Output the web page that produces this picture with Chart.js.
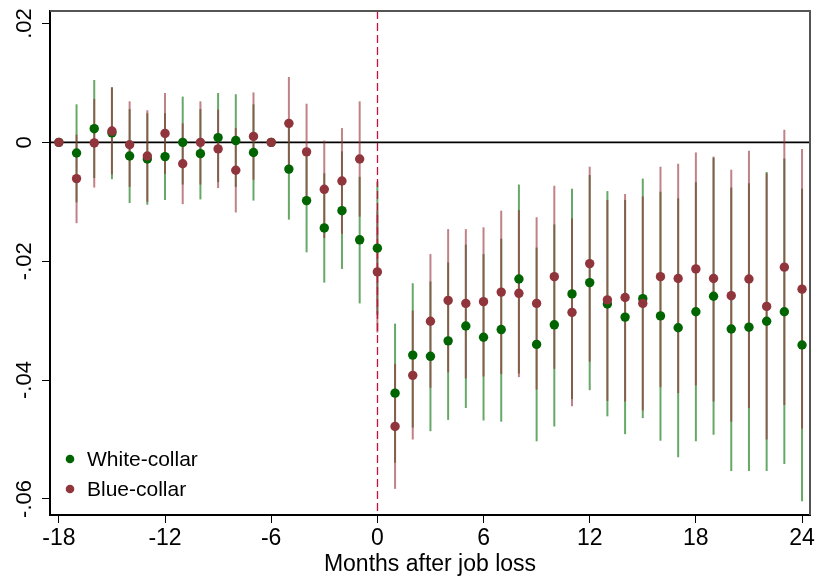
<!DOCTYPE html>
<html>
<head>
<meta charset="utf-8">
<script src="https://cdn.jsdelivr.net/npm/chart.js@4.4.0/dist/chart.umd.min.js"></script>
<style>
  body { margin: 0; background: #fff; }
  #wrap { width: 817px; height: 579px; }
</style>
</head>
<body>
<div id="wrap"><canvas id="jobLossChart" width="817" height="579"></canvas></div>
<script>
// months relative to job loss
const months = [-18, -17, -16, -15, -14, -13, -12, -11, -10, -9, -8, -7, -6, -5, -4, -3, -2, -1,
  0, 1, 2, 3, 4, 5, 6, 7, 8, 9, 10, 11, 12, 13, 14, 15, 16, 17, 18, 19, 20, 21, 22, 23, 24];

const whiteEst = [0, -0.0018, 0.0023, 0.0016, -0.0023, -0.0028, -0.0024, 0.0000, -0.0019, 0.0008, 0.0003, -0.0017, 0, -0.0045, -0.0098, -0.0144, -0.0115, -0.0164,
  -0.0178, -0.0422, -0.0358, -0.0360, -0.0334, -0.0309, -0.0328, -0.0315, -0.0230, -0.0340, -0.0307, -0.0255, -0.0236, -0.0272, -0.0294, -0.0263, -0.0292, -0.0312, -0.0285, -0.0259, -0.0314, -0.0311, -0.0301, -0.0285, -0.0341];
const whiteLo = [null, -0.0101, -0.0060, -0.0062, -0.0102, -0.0105, -0.0097, -0.0071, -0.0096, -0.0067, -0.0075, -0.0098, null, -0.0130, -0.0185, -0.0236, -0.0213, -0.0271,
  -0.0290, -0.0539, -0.0480, -0.0486, -0.0467, -0.0447, -0.0468, -0.0470, -0.0389, -0.0503, -0.0478, -0.0432, -0.0417, -0.0461, -0.0491, -0.0464, -0.0502, -0.0530, -0.0503, -0.0492, -0.0553, -0.0553, -0.0553, -0.0541, -0.0604];
const whiteHi = [null, 0.0064, 0.0105, 0.0093, 0.0056, 0.0049, 0.0049, 0.0077, 0.0056, 0.0083, 0.0081, 0.0064, null, 0.0030, -0.0011, -0.0052, -0.0015, -0.0058,
  -0.0066, -0.0305, -0.0237, -0.0234, -0.0202, -0.0172, -0.0188, -0.0162, -0.0071, -0.0177, -0.0138, -0.0078, -0.0055, -0.0082, -0.0097, -0.0061, -0.0083, -0.0094, -0.0067, -0.0026, -0.0076, -0.0069, -0.0050, -0.0027, -0.0078];

const blueEst = [0, -0.0061, -0.0001, 0.0019, -0.0004, -0.0023, 0.0015, -0.0036, 0.0000, -0.0011, -0.0047, 0.0010, 0, 0.0032, -0.0016, -0.0079, -0.0065, -0.0028,
  -0.0218, -0.0478, -0.0392, -0.0301, -0.0266, -0.0271, -0.0268, -0.0252, -0.0254, -0.0271, -0.0226, -0.0286, -0.0204, -0.0265, -0.0261, -0.0271, -0.0226, -0.0229, -0.0213, -0.0229, -0.0258, -0.0230, -0.0276, -0.0210, -0.0247];
const blueLo = [null, -0.0136, -0.0076, -0.0054, -0.0075, -0.0100, -0.0053, -0.0104, -0.0071, -0.0077, -0.0118, -0.0063, null, -0.0046, -0.0097, -0.0161, -0.0154, -0.0125,
  -0.0320, -0.0583, -0.0500, -0.0413, -0.0387, -0.0397, -0.0394, -0.0390, -0.0395, -0.0416, -0.0381, -0.0444, -0.0369, -0.0435, -0.0436, -0.0451, -0.0412, -0.0422, -0.0409, -0.0436, -0.0470, -0.0447, -0.0500, -0.0442, -0.0482];
const blueHi = [null, 0.0013, 0.0073, 0.0092, 0.0069, 0.0054, 0.0083, 0.0032, 0.0069, 0.0055, 0.0024, 0.0084, null, 0.0110, 0.0065, 0.0003, 0.0024, 0.0069,
  -0.0116, -0.0373, -0.0283, -0.0188, -0.0146, -0.0146, -0.0143, -0.0115, -0.0114, -0.0126, -0.0073, -0.0128, -0.0041, -0.0097, -0.0087, -0.0091, -0.0041, -0.0036, -0.0017, -0.0024, -0.0046, -0.0014, -0.0052, 0.0021, -0.0011];

const xTicks = [-18, -12, -6, 0, 6, 12, 18, 24];
const yTicks = [-0.06, -0.04, -0.02, 0, 0.02];

const GREEN = "#006400";
const RED = "#90353b";

Chart.defaults.font.family = "'Liberation Sans', Arial, sans-serif";
Chart.defaults.color = "#000";

function fmtY(v) {
  if (Math.abs(v) < 1e-9) return "0";
  return (v < 0 ? "-" : "") + Math.abs(v).toFixed(2).replace(/^0/, "");
}

function toPoints(est) {
  return months.map((m, i) => ({ x: m, y: est[i] }));
}

// zero line, job loss marker and the confidence bars, under the dots
const backLayer = {
  id: "backLayer",
  beforeDatasetsDraw(chart) {
    const { ctx, chartArea, scales } = chart;
    const x = scales.x, y = scales.y;
    ctx.save();

    const y0 = y.getPixelForValue(0);
    ctx.strokeStyle = "#000";
    ctx.lineWidth = 1.6;
    ctx.beginPath();
    ctx.moveTo(chartArea.left, y0);
    ctx.lineTo(chartArea.right, y0);
    ctx.stroke();

    const bars = [
      [whiteLo, whiteHi, "rgba(0,110,0,0.6)"],
      [blueLo, blueHi, "rgba(150,45,55,0.6)"]
    ];
    ctx.lineWidth = 2;
    bars.forEach(([lo, hi, col]) => {
      ctx.strokeStyle = col;
      months.forEach((m, i) => {
        if (lo[i] === null) return;
        const px = x.getPixelForValue(m);
        ctx.beginPath();
        ctx.moveTo(px, y.getPixelForValue(lo[i]));
        ctx.lineTo(px, y.getPixelForValue(hi[i]));
        ctx.stroke();
      });
    });

    const xz = Math.round(x.getPixelForValue(0)) + 0.5;
    ctx.strokeStyle = "#c8103c";
    ctx.lineWidth = 1.3;
    ctx.setLineDash([8, 4]);
    ctx.beginPath();
    ctx.moveTo(xz, chartArea.top);
    ctx.lineTo(xz, chartArea.bottom);
    ctx.stroke();
    ctx.restore();
  }
};

// frame, rotated y labels and the legend inside the plot
const frontLayer = {
  id: "frontLayer",
  afterDraw(chart) {
    const { ctx, chartArea, scales } = chart;
    ctx.save();
    ctx.strokeStyle = "#555";
    ctx.lineWidth = 2;
    ctx.beginPath();
    ctx.moveTo(chartArea.left, chartArea.top);
    ctx.lineTo(chartArea.right, chartArea.top);
    ctx.lineTo(chartArea.right, chartArea.bottom);
    ctx.stroke();

    ctx.fillStyle = "#000";
    ctx.font = "22px 'Liberation Sans', Arial, sans-serif";
    ctx.textAlign = "center";
    ctx.textBaseline = "middle";
    yTicks.forEach(v => {
      const py = scales.y.getPixelForValue(v);
      ctx.save();
      ctx.translate(25, py);
      ctx.rotate(-Math.PI / 2);
      ctx.fillText(fmtY(v), 0, 0);
      ctx.restore();
    });

    const items = [["White-collar", GREEN], ["Blue-collar", RED]];
    ctx.font = "21px 'Liberation Sans', Arial, sans-serif";
    ctx.textAlign = "left";
    items.forEach(([label, col], i) => {
      const ly = 459 + i * 30;
      ctx.fillStyle = col;
      ctx.beginPath();
      ctx.arc(70, ly, 4.3, 0, Math.PI * 2);
      ctx.fill();
      ctx.fillStyle = "#000";
      ctx.fillText(label, 87, ly + 1);
    });
    ctx.restore();
  }
};

new Chart(document.getElementById("jobLossChart").getContext("2d"), {
  type: "scatter",
  data: {
    datasets: [
      {
        label: "White-collar",
        data: toPoints(whiteEst),
        backgroundColor: GREEN,
        borderWidth: 0,
        pointRadius: 4.7,
        order: 1
      },
      {
        label: "Blue-collar",
        data: toPoints(blueEst),
        backgroundColor: RED,
        borderWidth: 0,
        pointRadius: 4.7,
        order: 0
      }
    ]
  },
  options: {
    responsive: false,
    animation: false,
    devicePixelRatio: 1,
    layout: { padding: { left: 0, top: 11, right: 7, bottom: 0 } },
    plugins: {
      legend: { display: false },
      tooltip: { enabled: false }
    },
    scales: {
      x: {
        type: "linear",
        min: -18.5,
        max: 24.45,
        afterBuildTicks: s => { s.ticks = xTicks.map(v => ({ value: v })); },
        afterFit: s => { s.height = 64; },
        ticks: { font: { size: 23 }, color: "#000", padding: 2, maxRotation: 0 },
        grid: { drawOnChartArea: false, drawTicks: true, tickLength: 8, color: "#000", lineWidth: 1 },
        border: { color: "#000", width: 2 },
        title: {
          display: true,
          text: "Months after job loss",
          font: { size: 23 },
          color: "#000",
          padding: { top: 0, bottom: 1 }
        }
      },
      y: {
        type: "linear",
        min: -0.0627,
        max: 0.0221,
        afterBuildTicks: s => { s.ticks = yTicks.map(v => ({ value: v })); },
        afterFit: s => { s.width = 50; },
        ticks: { display: false },
        grid: { drawOnChartArea: false, drawTicks: true, tickLength: 8, color: "#000", lineWidth: 1 },
        border: { color: "#000", width: 2 }
      }
    }
  },
  plugins: [backLayer, frontLayer]
});
</script>
</body>
</html>
